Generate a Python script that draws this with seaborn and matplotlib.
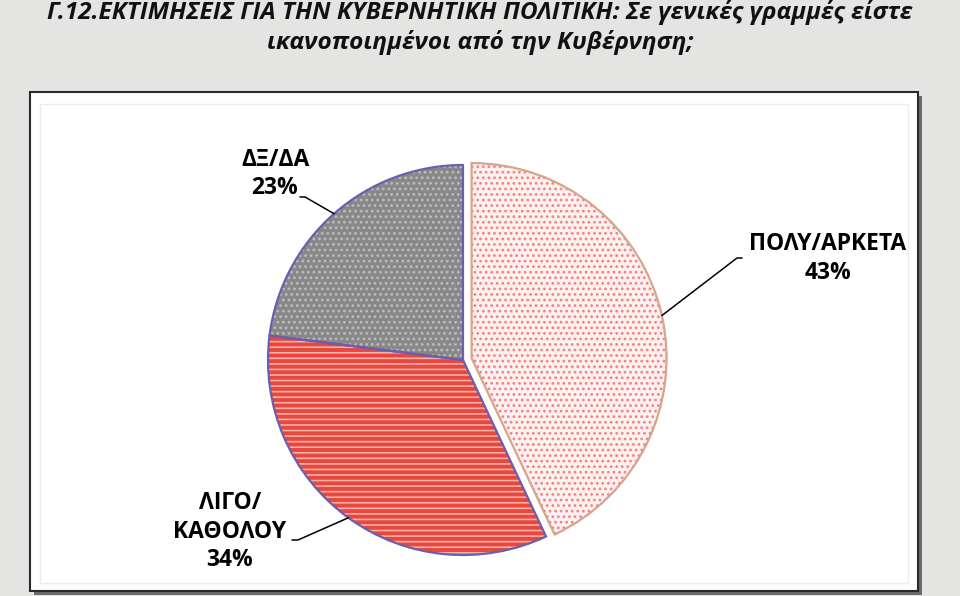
import matplotlib
matplotlib.use('Agg')
import matplotlib.pyplot as plt
import seaborn as sns
import numpy as np
from matplotlib.patches import Rectangle

# data
labels = ['ΠΟΛΥ/ΑΡΚΕΤΑ', 'ΛΙΓΟ/\nΚΑΘΟΛΟΥ', 'ΔΞ/ΔΑ']
values = [43, 34, 23]
title_lines = ['Γ.12.ΕΚΤΙΜΗΣΕΙΣ ΓΙΑ ΤΗΝ ΚΥΒΕΡΝΗΤΙΚΗ ΠΟΛΙΤΙΚΗ: Σε γενικές γραμμές είστε',
               'ικανοποιημένοι από την Κυβέρνηση;']

# style
fills = ['#fdf0f0', '#e8473e', '#888888']
hatch_colors = ['#ee8484', '#f6b0a8', '#bdbdbd']
hatches = ['...', '---', '...']
edges = ['#d6a58c', '#6a5eb0', '#6a5eb0']
explode = [0.045, 0, 0]
# label placement (text centre, elbow, end of leader) in axes data units
text_pos = [(1.872, 0.52), (-1.195, -0.882), (-0.964, 0.954)]
elbows = [(1.405, 0.523), (-0.846, -0.923), (-0.81, 0.836)]
ends = [(1.431, 0.523), (-0.877, -0.923), (-0.836, 0.836)]

sns.set_theme(style='white')
plt.rcParams['font.family'] = ['Open Sans', 'DejaVu Sans']
plt.rcParams['hatch.linewidth'] = 1.2

fig = plt.figure(figsize=(9.6, 5.96), dpi=100)
fig.patch.set_facecolor('#e4e4e2')

# white chart box with shadow
W, H = 960, 596
x0, y0, x1, y1 = 30, 92, 918, 591
fig.add_artist(Rectangle(((x0 + 4) / W, (H - y1 - 4) / H), (x1 - x0) / W, (y1 - y0) / H,
                         transform=fig.transFigure, facecolor='#6a6a6a', edgecolor='none', zorder=-3))
fig.add_artist(Rectangle((x0 / W, (H - y1) / H), (x1 - x0) / W, (y1 - y0) / H,
                         transform=fig.transFigure, facecolor='white', edgecolor='#2a2a2a',
                         linewidth=1.5, zorder=-2))
fig.add_artist(Rectangle(((x0 + 10) / W, (H - y1 + 8) / H), (x1 - x0 - 20) / W, (y1 - y0 - 20) / H,
                         transform=fig.transFigure, facecolor='none', edgecolor='#ececec',
                         linewidth=1.0, zorder=-2))

# title
fig.text(0.5, (H - 19) / H, title_lines[0], ha='center', va='baseline', fontsize=17.6,
         fontweight='bold', fontstyle='italic', color='#111111')
fig.text(0.5, (H - 49) / H, title_lines[1], ha='center', va='baseline', fontsize=17.6,
         fontweight='bold', fontstyle='italic', color='#111111')

cx, cy, r = 463, 360, 195
half = 230
ax = fig.add_axes([(cx - half) / W, (H - cy - half) / H, 2 * half / W, 2 * half / H])
ax.set_facecolor('none')

wedges, _ = ax.pie(values, startangle=90, counterclock=False, explode=explode,
                   colors=fills, wedgeprops=dict(linewidth=0))
for w, hc, h in zip(wedges, hatch_colors, hatches):
    w.set_hatch(h)
    w.set_edgecolor(hc)
    w.set_linewidth(0)

outline, _ = ax.pie(values, startangle=90, counterclock=False, explode=explode,
                    wedgeprops=dict(fill=False, linewidth=1.6))
for w, ec in zip(outline, edges):
    w.set_edgecolor(ec)

lim = half / r
ax.set_xlim(-lim, lim)
ax.set_ylim(-lim, lim)
ax.axis('off')

total = sum(values)
for w, lab, v, tp, el, en in zip(wedges, labels, values, text_pos, elbows, ends):
    ang = np.deg2rad((w.theta1 + w.theta2) / 2)
    px = w.center[0] + w.r * np.cos(ang)
    py = w.center[1] + w.r * np.sin(ang)
    ax.plot([px, el[0], en[0]], [py, el[1], en[1]], color='black', linewidth=1.1, clip_on=False)
    ax.text(tp[0], tp[1], f'{lab}\n{round(v / total * 100)}%', ha='center', va='center',
            fontsize=16.5, fontweight='bold', color='black', linespacing=1.25, clip_on=False)

fig.savefig('out.png', dpi=100, facecolor=fig.get_facecolor())
